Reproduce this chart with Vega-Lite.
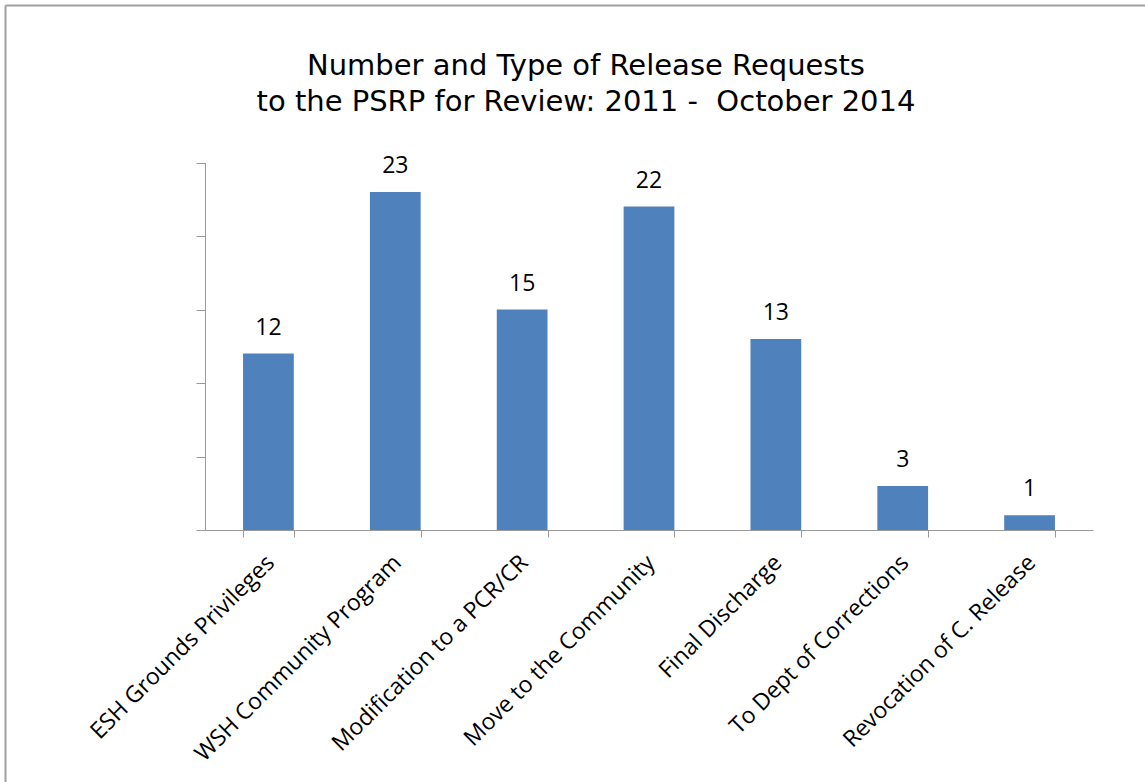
{
  "$schema": "https://vega.github.io/schema/vega-lite/v6.json",
  "autosize": "none",
  "width": 1140,
  "height": 777,
  "padding": {"left": 5, "top": 5, "right": 0, "bottom": 0},
  "background": "white",
  "title": {
    "text": ["Number and Type of Release Requests", "to the PSRP for Review: 2011 - \u00a0October 2014"],
    "font": "DejaVu Sans",
    "fontSize": 29,
    "fontWeight": "normal",
    "color": "black",
    "anchor": "middle",
    "frame": "group",
    "lineHeight": 36,
    "offset": -112,
    "dx": 11
  },
  "data": {
    "values": [
      {"category": "ESH Grounds Privileges", "count": 12},
      {"category": "WSH Community Program", "count": 23},
      {"category": "Modification to a PCR/CR", "count": 15},
      {"category": "Move to the Community", "count": 22},
      {"category": "Final Discharge", "count": 13},
      {"category": "To Dept of Corrections", "count": 3},
      {"category": "Revocation of C. Release", "count": 1}
    ]
  },
  "layer": [
    {
      "encoding": {
        "x": {
          "field": "category",
          "type": "nominal",
          "sort": null,
          "scale": {"paddingInner": 0.6, "paddingOuter": 0.3, "range": [200, 1088]},
          "axis": {
            "title": null,
            "orient": "bottom",
            "offset": -252,
            "labelAngle": -45,
            "labelFont": "Open Sans",
            "labelFontSize": 23,
            "labelColor": "black",
            "labelPadding": 14,
            "labelOffset": -6,
            "tickBand": "extent",
            "tickSize": 7,
            "tickColor": "#9a9a9a",
            "domainColor": "#9a9a9a",
            "labelLimit": 400
          }
        },
        "y": {
          "field": "count",
          "type": "quantitative",
          "scale": {"domain": [0, 25], "nice": false, "range": [525, 157.5]},
          "axis": {
            "title": null,
            "orient": "left",
            "offset": -200,
            "labels": false,
            "grid": false,
            "values": [0, 5, 10, 15, 20, 25],
            "tickSize": 9,
            "tickColor": "#9a9a9a",
            "domainColor": "#9a9a9a"
          }
        }
      },
      "layer": [
        {"mark": {"type": "bar", "color": "#4F81BD"}},
        {
          "mark": {"type": "text", "baseline": "alphabetic", "dy": -19, "font": "Open Sans", "fontSize": 23, "color": "black"},
          "encoding": {"text": {"field": "count", "type": "quantitative"}}
        }
      ]
    },
    {
      "mark": {"type": "bar", "opacity": 0},
      "encoding": {
        "x": {
          "field": "category",
          "type": "nominal",
          "sort": null,
          "scale": {"range": [0, 1140]},
          "axis": {
            "title": null,
            "orient": "top",
            "offset": 0,
            "labels": false,
            "ticks": false,
            "grid": false,
            "domain": true,
            "domainColor": "#a0a0a0",
            "domainWidth": 2
          }
        },
        "y": {
          "field": "count",
          "type": "quantitative",
          "scale": {"domain": [0, 25], "nice": false, "range": [777, 0]},
          "axis": {
            "title": null,
            "orient": "left",
            "offset": 0,
            "labels": false,
            "ticks": false,
            "grid": false,
            "domain": true,
            "domainColor": "#a0a0a0",
            "domainWidth": 2
          }
        }
      }
    }
  ],
  "resolve": {"scale": {"x": "independent", "y": "independent"}, "axis": {"x": "independent", "y": "independent"}},
  "config": {"view": {"stroke": null}}
}
